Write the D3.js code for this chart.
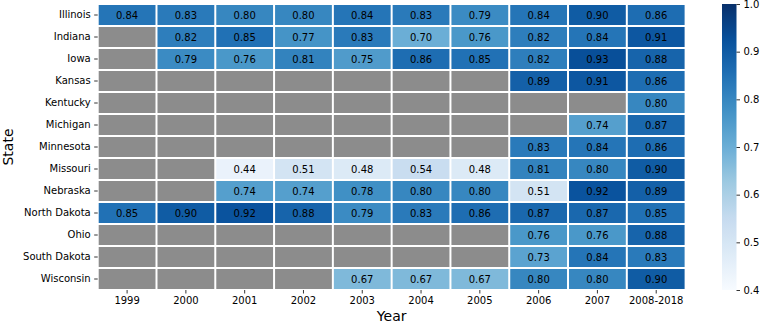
<!DOCTYPE html>
<html>
<head>
<meta charset="utf-8">
<script src="https://cdn.jsdelivr.net/npm/d3@7"></script>
<style>
  body { margin: 0; background: #fff; }
  svg { display: block; font-family: "DejaVu Sans", sans-serif; }
</style>
</head>
<body>
<svg id="chart" width="760" height="324"></svg>
<script>
const states = ["Illinois", "Indiana", "Iowa", "Kansas", "Kentucky", "Michigan", "Minnesota",
  "Missouri", "Nebraska", "North Dakota", "Ohio", "South Dakota", "Wisconsin"];
const years = ["1999", "2000", "2001", "2002", "2003", "2004", "2005", "2006", "2007", "2008-2018"];
const values = [
  [0.84, 0.83, 0.80, 0.80, 0.84, 0.83, 0.79, 0.84, 0.90, 0.86],
  [null, 0.82, 0.85, 0.77, 0.83, 0.70, 0.76, 0.82, 0.84, 0.91],
  [null, 0.79, 0.76, 0.81, 0.75, 0.86, 0.85, 0.82, 0.93, 0.88],
  [null, null, null, null, null, null, null, 0.89, 0.91, 0.86],
  [null, null, null, null, null, null, null, null, null, 0.80],
  [null, null, null, null, null, null, null, null, 0.74, 0.87],
  [null, null, null, null, null, null, null, 0.83, 0.84, 0.86],
  [null, null, 0.44, 0.51, 0.48, 0.54, 0.48, 0.81, 0.80, 0.90],
  [null, null, 0.74, 0.74, 0.78, 0.80, 0.80, 0.51, 0.92, 0.89],
  [0.85, 0.90, 0.92, 0.88, 0.79, 0.83, 0.86, 0.87, 0.87, 0.85],
  [null, null, null, null, null, null, null, 0.76, 0.76, 0.88],
  [null, null, null, null, null, null, null, 0.73, 0.84, 0.83],
  [null, null, null, null, 0.67, 0.67, 0.67, 0.80, 0.80, 0.90]
];
const colorTicks = [0.4, 0.5, 0.6, 0.7, 0.8, 0.9, 1.0];
const vmin = 0.4, vmax = 1.0;

(function () {
const bluesStops = ["#f7fbff", "#deebf7", "#c6dbef", "#9ecae1", "#6baed6", "#4292c6", "#2171b5", "#08519c", "#08306b"];
const color = d3.scaleLinear()
  .domain(bluesStops.map((_, i) => vmin + (vmax - vmin) * i / (bluesStops.length - 1)))
  .range(bluesStops)
  .interpolate(d3.interpolateRgb)
  .clamp(true);

const svg = d3.select("#chart");
const mLeft = 97.7, mRight = 685.6, mTop = 4, mBottom = 290;

const x = d3.scaleBand().domain(years).range([mLeft, mRight]).padding(0);
const y = d3.scaleBand().domain(states).range([mTop, mBottom]).padding(0);

const cells = [];
states.forEach((s, i) => years.forEach((yr, j) => cells.push({ state: s, year: yr, v: values[i][j] })));

const g = svg.append("g");
g.selectAll("rect.cell").data(cells).join("rect")
  .attr("class", "cell")
  .attr("x", d => x(d.year) + 1)
  .attr("y", d => y(d.state) + 1)
  .attr("width", x.bandwidth() - 2)
  .attr("height", y.bandwidth() - 2)
  .attr("fill", d => d.v == null ? "#8c8c8c" : color(d.v));

g.selectAll("text.annot").data(cells.filter(d => d.v != null)).join("text")
  .attr("class", "annot")
  .attr("x", d => x(d.year) + x.bandwidth() / 2)
  .attr("y", d => y(d.state) + y.bandwidth() / 2)
  .attr("dy", "0.35em")
  .attr("text-anchor", "middle")
  .attr("font-size", 10)
  .attr("fill", "#000")
  .text(d => d3.format(".2f")(d.v));

const xAxis = svg.append("g").attr("transform", `translate(0,${mBottom})`)
  .call(d3.axisBottom(x).tickSize(3.5).tickSizeOuter(0).tickPadding(3.5));
xAxis.select(".domain").remove();
xAxis.selectAll("text").attr("font-size", 10).attr("font-family", "DejaVu Sans").attr("fill", "#000");
xAxis.selectAll("line").attr("stroke", "#000").attr("stroke-width", 0.8);

const yAxis = svg.append("g").attr("transform", `translate(${mLeft},0)`)
  .call(d3.axisLeft(y).tickSize(3.5).tickSizeOuter(0).tickPadding(3.5));
yAxis.select(".domain").remove();
yAxis.selectAll("text").attr("font-size", 10).attr("font-family", "DejaVu Sans").attr("fill", "#000");
yAxis.selectAll("line").attr("stroke", "#000").attr("stroke-width", 0.8);

svg.append("text")
  .attr("transform", `translate(13,${(mTop + mBottom) / 2}) rotate(-90)`)
  .attr("text-anchor", "middle")
  .attr("font-size", 14)
  .text("State");

svg.append("text")
  .attr("x", (mLeft + mRight) / 2)
  .attr("y", 321)
  .attr("text-anchor", "middle")
  .attr("font-size", 14)
  .text("Year");

const cbX = 722, cbW = 14.5;
const cScale = d3.scaleLinear().domain([vmin, vmax]).range([mBottom, mTop]);
const defs = svg.append("defs");
const grad = defs.append("linearGradient").attr("id", "cbgrad")
  .attr("x1", 0).attr("y1", 1).attr("x2", 0).attr("y2", 0);
d3.range(0, 1.0001, 0.02).forEach(t => {
  grad.append("stop").attr("offset", t).attr("stop-color", color(vmin + t * (vmax - vmin)));
});
svg.append("rect")
  .attr("x", cbX).attr("y", mTop)
  .attr("width", cbW).attr("height", mBottom - mTop)
  .attr("fill", "url(#cbgrad)");

const cAxis = svg.append("g").attr("transform", `translate(${cbX + cbW},0)`)
  .call(d3.axisRight(cScale).tickValues(colorTicks).tickFormat(d3.format(".1f")).tickSize(3.5).tickPadding(3.5));
cAxis.select(".domain").remove();
cAxis.selectAll("text").attr("font-size", 10).attr("font-family", "DejaVu Sans").attr("fill", "#000");
cAxis.selectAll("line").attr("stroke", "#000").attr("stroke-width", 0.8);
})();
</script>
</body>
</html>
